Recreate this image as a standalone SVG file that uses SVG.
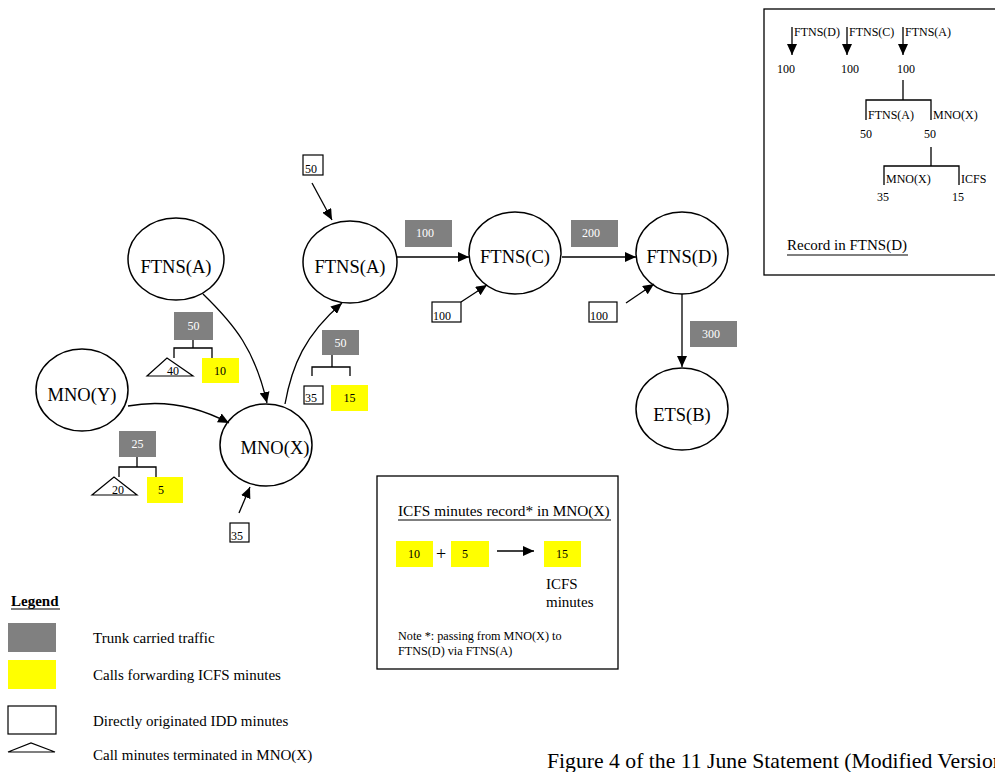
<svg xmlns="http://www.w3.org/2000/svg" width="995" height="772" viewBox="0 0 995 772">
<style>
text{font-family:"Liberation Serif","Times New Roman",serif;fill:#000}
.node{fill:#fff;stroke:#000;stroke-width:1.5}
.nl{font-size:18.5px;text-anchor:middle}
.gray{fill:#808080}
.yel{fill:#ffff00}
.wb{fill:#fff;stroke:#000;stroke-width:1.2}
.gt{font-size:12px;fill:#fff;text-anchor:middle}
.yt{font-size:12px;text-anchor:middle}
.st{font-size:12px}
.ln{fill:none;stroke:#000;stroke-width:1.3}
.arr{fill:none;stroke:#000;stroke-width:1.3;marker-end:url(#ah)}
.box{fill:#fff;stroke:#000;stroke-width:1.3}
.lg{font-size:15px}
</style>
<defs>
<marker id="ah" markerUnits="userSpaceOnUse" markerWidth="12" markerHeight="10" refX="11" refY="5" orient="auto">
<path d="M0,0 L11,5 L0,10 z" fill="#000"/>
</marker>
</defs>

<rect width="995" height="772" fill="#fff"/>

<!-- Record box -->
<g id="record-box">
<rect class="box" x="764" y="9" width="240" height="266"/>
<line class="arr" x1="792" y1="27" x2="792" y2="55"/>
<line class="arr" x1="847" y1="27" x2="847" y2="55"/>
<line class="arr" x1="903" y1="27" x2="903" y2="55"/>
<text class="st" x="794" y="36">FTNS(D)</text>
<text class="st" x="849" y="36">FTNS(C)</text>
<text class="st" x="905" y="36">FTNS(A)</text>
<text class="st" x="786" y="73" text-anchor="middle">100</text>
<text class="st" x="850" y="73" text-anchor="middle">100</text>
<text class="st" x="906" y="73" text-anchor="middle">100</text>
<path class="ln" d="M903,80 V100 M866,120 V100 H931 V120"/>
<text class="st" x="868" y="119">FTNS(A)</text>
<text class="st" x="933" y="119">MNO(X)</text>
<text class="st" x="866" y="138" text-anchor="middle">50</text>
<text class="st" x="930" y="138" text-anchor="middle">50</text>
<path class="ln" d="M931,147 V166 M884,185 V166 H959 V185"/>
<text class="st" x="886" y="183">MNO(X)</text>
<text class="st" x="961" y="183">ICFS</text>
<text class="st" x="883" y="201" text-anchor="middle">35</text>
<text class="st" x="958" y="201" text-anchor="middle">15</text>
<text x="787" y="250" style="font-size:15px">Record in FTNS(D)</text>
<line x1="787" y1="255" x2="908" y2="255" stroke="#000" stroke-width="1"/>
</g>

<!-- Nodes -->
<g id="ftns-a-left"><ellipse class="node" cx="176" cy="259" rx="48" ry="41"/><text class="nl" x="176" y="273">FTNS(A)</text></g>
<g id="mno-y"><ellipse class="node" cx="82" cy="390" rx="46" ry="41"/><text class="nl" x="82" y="401">MNO(Y)</text></g>
<g id="mno-x"><ellipse class="node" cx="266" cy="445" rx="46" ry="41"/><text class="nl" x="275" y="454">MNO(X)</text></g>
<g id="ftns-a"><ellipse class="node" cx="350" cy="262" rx="47" ry="41"/><text class="nl" x="350" y="273">FTNS(A)</text></g>
<g id="ftns-c"><ellipse class="node" cx="515" cy="253" rx="46" ry="41"/><text class="nl" x="515" y="263">FTNS(C)</text></g>
<g id="ftns-d"><ellipse class="node" cx="682" cy="253" rx="46" ry="41"/><text class="nl" x="682" y="263">FTNS(D)</text></g>
<g id="ets-b"><ellipse class="node" cx="682" cy="409" rx="46" ry="41"/><text class="nl" x="682" y="421">ETS(B)</text></g>

<!-- Connectors -->
<g id="connectors">
<line class="arr" x1="397" y1="257" x2="469" y2="257"/>
<line class="arr" x1="562" y1="257" x2="636" y2="257"/>
<line class="arr" x1="682" y1="294" x2="682" y2="367"/>
<line class="arr" x1="461" y1="302" x2="487" y2="285"/>
<line class="arr" x1="626" y1="303" x2="654" y2="284"/>
<line class="arr" x1="312" y1="183" x2="332" y2="220"/>
<line class="arr" x1="239" y1="513" x2="250" y2="487"/>
<path class="arr" d="M285,404 C292,365 305,335 342,303"/>
<path class="arr" d="M203,294 C235,325 255,350 267,403"/>
<path class="arr" d="M128,406 C160,400 195,405 229,423"/>
</g>

<!-- Labels near FTNS(A) left -->
<g id="split-50-left">
<rect class="gray" x="174" y="312" width="39" height="28"/><text class="gt" x="193.5" y="330">50</text>
<path class="ln" d="M193,340 V348 M174,358 V348 H212 V358"/>
<polygon points="147,376 193,376 167,358" fill="#fff" stroke="#000" stroke-width="1.2"/>
<text class="yt" x="173" y="375">40</text>
<rect class="yel" x="202" y="358" width="37" height="25"/><text class="yt" x="220" y="375">10</text>
</g>

<g id="split-25">
<rect class="gray" x="119" y="431" width="37" height="26"/><text class="gt" x="137.5" y="448">25</text>
<path class="ln" d="M137,457 V467 M119,477 V467 H156 V477"/>
<polygon points="92,495 137,495 114,477" fill="#fff" stroke="#000" stroke-width="1.2"/>
<text class="yt" x="118" y="494">20</text>
<rect class="yel" x="147" y="477" width="36" height="26"/><text class="yt" x="161" y="494">5</text>
</g>

<g id="box-35-bottom"><rect class="wb" x="230" y="523" width="19" height="19"/><text class="st" x="231" y="540">35</text></g>

<g id="split-50-mid">
<rect class="gray" x="322" y="330" width="37" height="25"/><text class="gt" x="340.5" y="347">50</text>
<path class="ln" d="M332,355 V367 M312,376 V367 H350 V376"/>
<rect class="wb" x="304" y="386" width="19" height="18"/><text class="st" x="305" y="402">35</text>
<rect class="yel" x="331" y="385" width="37" height="26"/><text class="yt" x="349.5" y="402">15</text>
</g>

<g id="box-50-top"><rect class="wb" x="303" y="155" width="20" height="20"/><text class="st" x="305" y="173">50</text></g>
<g id="trunk-100"><rect class="gray" x="405" y="220" width="47" height="27"/><text class="gt" x="425" y="237">100</text></g>
<g id="trunk-200"><rect class="gray" x="571" y="220" width="47" height="27"/><text class="gt" x="591" y="237">200</text></g>
<g id="trunk-300"><rect class="gray" x="690" y="321" width="47" height="26"/><text class="gt" x="711" y="338">300</text></g>
<g id="box-100-c"><rect class="wb" x="432" y="302" width="29" height="20"/><text class="st" x="433" y="320">100</text></g>
<g id="box-100-d"><rect class="wb" x="589" y="302" width="28" height="20"/><text class="st" x="590" y="320">100</text></g>

<!-- ICFS box -->
<g id="icfs-box">
<rect class="box" x="377" y="476" width="241" height="193"/>
<text x="398" y="516" style="font-size:15.3px">ICFS minutes record* in MNO(X)</text>
<line x1="398" y1="520" x2="611" y2="520" stroke="#000" stroke-width="1"/>
<rect class="yel" x="396" y="541" width="37" height="26"/><text class="yt" x="414" y="558">10</text>
<text x="441" y="560" style="font-size:18px" text-anchor="middle">+</text>
<rect class="yel" x="451" y="541" width="38" height="26"/><text class="yt" x="465" y="558">5</text>
<line class="arr" x1="497" y1="551" x2="534" y2="551"/>
<rect class="yel" x="544" y="541" width="37" height="26"/><text class="yt" x="562" y="558">15</text>
<text x="546" y="589" style="font-size:15px">ICFS</text>
<text x="546" y="607" style="font-size:15px">minutes</text>
<text x="398" y="640" style="font-size:12.2px">Note *: passing from MNO(X) to</text>
<text x="398" y="655" style="font-size:12.2px">FTNS(D) via FTNS(A)</text>
</g>

<!-- Legend -->
<g id="legend">
<text x="11" y="606" style="font-size:15px;font-weight:bold">Legend</text>
<line x1="11" y1="609" x2="60" y2="609" stroke="#000" stroke-width="1"/>
<rect class="gray" x="8" y="623" width="48" height="29"/>
<text class="lg" x="93" y="643">Trunk carried traffic</text>
<rect class="yel" x="8" y="660" width="48" height="29"/>
<text class="lg" x="93" y="680">Calls forwarding ICFS minutes</text>
<rect class="wb" x="8" y="706" width="48" height="28"/>
<text class="lg" x="93" y="726">Directly originated IDD minutes</text>
<polygon points="8,752 55,752 31,743" fill="#fff" stroke="#000" stroke-width="1.2"/>
<text class="lg" x="93" y="760">Call minutes terminated in MNO(X)</text>
</g>

<text x="547" y="768" style="font-size:21.7px">Figure 4 of the 11 June Statement (Modified Version)</text>
</svg>
